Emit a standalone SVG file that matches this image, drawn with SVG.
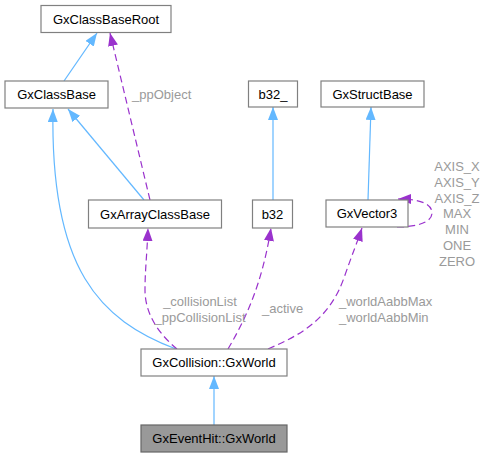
<svg xmlns="http://www.w3.org/2000/svg" width="488" height="457" viewBox="0 0 488 457">
<style>
.node rect{fill:#ffffff;stroke:#808080;stroke-width:1.2}
.node.hl rect{fill:#999999;stroke:#666666}
.node text{font-family:"Liberation Sans",Arial,sans-serif;font-size:13px;fill:#000;text-anchor:middle}
.inh{fill:none;stroke:#63b8ff;stroke-width:1.2;marker-end:url(#ab)}
.use{fill:none;stroke:#9a32cd;stroke-width:1.2;stroke-dasharray:7,4;marker-end:url(#ap)}
.lbl{font-family:"Liberation Sans",Arial,sans-serif;font-size:13px;fill:#9a9a9a}
</style>
<defs>
<marker id="ab" markerUnits="userSpaceOnUse" viewBox="0 0 13 10" refX="13" refY="5" markerWidth="13" markerHeight="10" orient="auto"><path d="M0,0 L13,5 L0,10 z" fill="#63b8ff"/></marker>
<marker id="ap" markerUnits="userSpaceOnUse" viewBox="0 0 13 10" refX="13" refY="5" markerWidth="13" markerHeight="10" orient="auto"><path d="M0,0 L13,5 L0,10 z" fill="#9a32cd"/></marker>
</defs>
<g id="edges">
<path class="inh" d="M64,81 L97,33"/>
<path class="inh" d="M144,200 L68,109"/>
<path class="inh" d="M176,349 C100,320 50,270 53,109"/>
<path class="use" d="M150,200 L110,33"/>
<path class="inh" d="M273,200 L273,107"/>
<path class="inh" d="M368,200 L371,107"/>
<path class="use" d="M397,227 C415,227 432,223 432,213 C432,203 418,199 398,199"/>
<path class="use" d="M177,349 C160,335 145,315 145,290 C145,270 147,255 148,228"/>
<path class="use" d="M228,349 C245,320 262,285 271,228"/>
<path class="use" d="M268,349 C300,335 330,320 345,275 C352,255 358,240 362,228"/>
<path class="inh" d="M214,425 L214,376"/>
<text class="lbl" x="132" y="99">_ppObject</text>
<text class="lbl" x="200" y="306" text-anchor="middle">_collisionList</text>
<text class="lbl" x="200" y="322" text-anchor="middle">_ppCollisionList</text>
<text class="lbl" x="262" y="313">_active</text>
<text class="lbl" x="339" y="306">_worldAabbMax</text>
<text class="lbl" x="339" y="322">_worldAabbMin</text>
<g text-anchor="middle">
<text class="lbl" x="457" y="171">AXIS_X</text>
<text class="lbl" x="457" y="187">AXIS_Y</text>
<text class="lbl" x="457" y="203">AXIS_Z</text>
<text class="lbl" x="457" y="218">MAX</text>
<text class="lbl" x="457" y="234">MIN</text>
<text class="lbl" x="457" y="250">ONE</text>
<text class="lbl" x="457" y="266">ZERO</text>
</g>
</g>
<g id="GxClassBaseRoot" class="node"><rect x="41" y="5.5" width="130" height="27"/><text x="106" y="23.5">GxClassBaseRoot</text></g>
<g id="GxClassBase" class="node"><rect x="5" y="81" width="103" height="27"/><text x="56.5" y="99">GxClassBase</text></g>
<g id="b32_" class="node"><rect x="248.5" y="81" width="49" height="26"/><text x="273" y="98.5">b32_</text></g>
<g id="GxStructBase" class="node"><rect x="321" y="81" width="103" height="26"/><text x="372.5" y="98.5">GxStructBase</text></g>
<g id="GxArrayClassBase" class="node"><rect x="88.5" y="200" width="133" height="28"/><text x="155" y="218.5">GxArrayClassBase</text></g>
<g id="b32" class="node"><rect x="252.5" y="200" width="40" height="28"/><text x="272.5" y="218.5">b32</text></g>
<g id="GxVector3" class="node"><rect x="326" y="200" width="82" height="27"/><text x="367" y="218">GxVector3</text></g>
<g id="GxCollisionGxWorld" class="node"><rect x="141" y="349" width="146" height="27"/><text x="214" y="367">GxCollision::GxWorld</text></g>
<g id="GxEventHitGxWorld" class="node hl"><rect x="141" y="425" width="146" height="27"/><text x="214" y="443">GxEventHit::GxWorld</text></g>
</svg>
